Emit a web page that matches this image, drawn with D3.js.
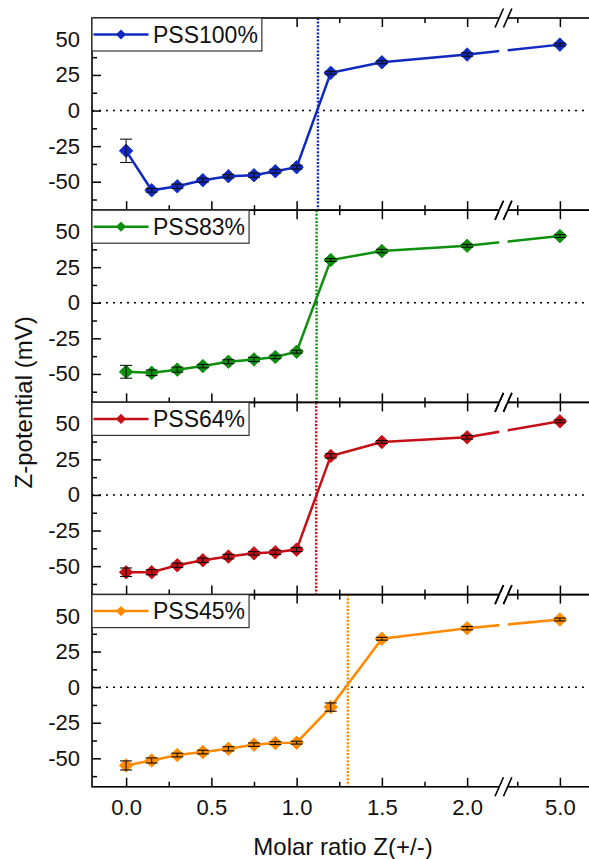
<!DOCTYPE html>
<html>
<head>
<meta charset="utf-8">
<script src="https://cdn.jsdelivr.net/npm/d3@7"></script>
<style>
  body { margin: 0; background: #fff; }
  svg { font-family: "Liberation Sans", Arial, sans-serif; }
</style>
</head>
<body>
<div class="chart"></div>
<script>
// ---- data ----
var ratios = [0, 0.15, 0.3, 0.45, 0.6, 0.75, 0.875, 1.0, 1.2, 1.5, 2.0, 5.0];

var pss100    = [-28.3, -56.0, -53.2, -48.9, -46.1, -45.4, -42.6, -39.8, 26.5, 33.9, 39.3, 46.3];
var pss100Err = [8.2, 1.3, 1.5, 1.4, 1.2, 1.5, 1.3, 1.3, 1.0, 1.0, 1.2, 1.0];

var pss83     = [-48.5, -49.2, -47.0, -44.5, -41.4, -39.8, -38.1, -34.4, 30.0, 36.3, 40.0, 46.8];
var pss83Err  = [4.5, 2.0, 1.8, 1.2, 1.4, 1.5, 1.2, 1.0, 1.0, 1.2, 1.0, 1.0];

var pss64     = [-54.3, -54.3, -49.4, -45.9, -43.3, -41.0, -40.3, -38.4, 27.4, 37.2, 40.5, 51.7];
var pss64Err  = [3.0, 1.8, 1.5, 1.6, 1.6, 1.2, 1.5, 1.4, 1.5, 1.0, 1.3, 1.0];

var pss45     = [-55.0, -51.5, -47.7, -45.6, -43.3, -40.4, -39.3, -39.0, -14.0, 34.0, 41.4, 47.5];
var pss45Err  = [3.2, 1.8, 1.3, 1.3, 1.5, 1.2, 1.0, 1.0, 2.9, 1.0, 1.2, 1.0];

var seriesNames = ["PSS100%", "PSS83%", "PSS64%", "PSS45%"];
var crossings   = [1.125, 1.117, 1.115, 1.30];

var xMajorTicks = [0, 0.5, 1.0, 1.5, 2.0, 5.0];
var xMinorTicks = [0.25, 0.75, 1.25, 1.75, 4.75, 5.25];
var yMajorTicks = [-50, -25, 0, 25, 50];
var yMinorTicks = [-62.5, -37.5, -12.5, 12.5, 37.5, 62.5];

var panels = [
    { name: seriesNames[0], values: pss100, errors: pss100Err, cross: crossings[0], color: "#1029c0" },
    { name: seriesNames[1], values: pss83,  errors: pss83Err,  cross: crossings[1], color: "#0e8f0e" },
    { name: seriesNames[2], values: pss64,  errors: pss64Err,  cross: crossings[2], color: "#c40f16" },
    { name: seriesNames[3], values: pss45,  errors: pss45Err,  cross: crossings[3], color: "#ff8a00" }
];

// ---- layout ----
var svgW = 589, svgH = 859;
var marginLeft = 92, marginTop = 18;
var plotW = 502;          // right frame sits just past the window edge
var panelH = 192.2;
var breakLo = 2.213, breakHi = 4.669;

var svg = d3.select(".chart").append("svg")
    .attr("width", svgW)
    .attr("height", svgH);

// broken x axis: two linear pieces joined at the same pixel
var pxPerUnit = plotW / ((breakLo + 0.2) + (5.2 - breakHi));
var breakX = (breakLo + 0.2) * pxPerUnit;
var x = d3.scaleLinear()
    .domain([-0.2, breakLo, breakHi, 5.2])
    .range([0, breakX, breakX, plotW]);

var y = d3.scaleLinear()
    .domain([-70, 65])
    .range([panelH, 0]);

var diamond = d3.symbol().type(d3.symbolSquare).size(92);
var legendDiamond = d3.symbol().type(d3.symbolSquare).size(52);

var defs = svg.append("defs");
defs.append("clipPath").attr("id", "clip-left")
    .append("rect").attr("x", -10).attr("y", -20).attr("width", breakX - 4.2 + 10).attr("height", panelH + 40);
defs.append("clipPath").attr("id", "clip-right")
    .append("rect").attr("x", breakX + 4.2).attr("y", -20).attr("width", plotW).attr("height", panelH + 40);

panels.forEach(function(p, i) {
    var g = svg.append("g")
        .attr("transform", "translate(" + marginLeft + "," + (marginTop + i * panelH) + ")");

    var pts = ratios.map(function(r, j) {
        return { x: r, y: p.values[j], e: p.errors[j] };
    });

    // zero reference line
    g.append("line")
        .attr("x1", 0).attr("x2", plotW)
        .attr("y1", y(0)).attr("y2", y(0))
        .attr("stroke", "#000")
        .attr("stroke-width", 1.5)
        .attr("stroke-dasharray", "2,5");

    // charge neutrality marker
    g.append("line")
        .attr("x1", x(p.cross)).attr("x2", x(p.cross))
        .attr("y1", 0).attr("y2", panelH)
        .attr("stroke", p.color)
        .attr("stroke-width", 2.4)
        .attr("stroke-dasharray", "2,1.6");

    var line = d3.line()
        .x(function(d) { return x(d.x); })
        .y(function(d) { return y(d.y); });

    ["clip-left", "clip-right"].forEach(function(c) {
        g.append("path")
            .datum(pts)
            .attr("clip-path", "url(#" + c + ")")
            .attr("fill", "none")
            .attr("stroke", p.color)
            .attr("stroke-width", 2.5)
            .attr("d", line);
    });

    g.selectAll(".marker")
        .data(pts)
        .enter()
        .append("path")
        .attr("class", "marker")
        .attr("d", diamond)
        .attr("transform", function(d) {
            return "translate(" + x(d.x) + "," + y(d.y) + ") rotate(45)";
        })
        .attr("fill", p.color)
        .attr("stroke", p.color)
        .attr("stroke-width", 0.8);

    // error bars
    var eb = g.selectAll(".err")
        .data(pts)
        .enter()
        .append("g")
        .attr("class", "err")
        .attr("stroke", "#111")
        .attr("stroke-width", 1.1);
    eb.append("line")
        .attr("x1", function(d) { return x(d.x); })
        .attr("x2", function(d) { return x(d.x); })
        .attr("y1", function(d) { return y(d.y - d.e); })
        .attr("y2", function(d) { return y(d.y + d.e); });
    [-1, 1].forEach(function(s) {
        eb.append("line")
            .attr("x1", function(d) { return x(d.x) - 6; })
            .attr("x2", function(d) { return x(d.x) + 6; })
            .attr("y1", function(d) { return y(d.y + s * d.e); })
            .attr("y2", function(d) { return y(d.y + s * d.e); });
    });

    // axes, ticks pointing inward
    var axes = [
        { ax: d3.axisLeft(y).tickValues(yMajorTicks).tickSize(-9).tickPadding(12)
                .tickFormat(function(d) { return String(d); }), t: null },
        { ax: d3.axisLeft(y).tickValues(yMinorTicks).tickSize(-5).tickFormat(""), t: null },
        { ax: d3.axisTop(x).tickValues(xMajorTicks).tickSize(-9).tickFormat(""), t: null },
        { ax: d3.axisTop(x).tickValues(xMinorTicks).tickSize(-5).tickFormat(""), t: null },
        { ax: d3.axisBottom(x).tickValues(xMajorTicks).tickSize(-9).tickPadding(13)
                .tickFormat(i === panels.length - 1 ? d3.format(".1f") : ""), t: panelH },
        { ax: d3.axisBottom(x).tickValues(xMinorTicks).tickSize(-5).tickFormat(""), t: panelH }
    ];
    axes.forEach(function(a) {
        var ag = g.append("g")
            .attr("class", "axis")
            .attr("transform", a.t === null ? null : "translate(0," + a.t + ")")
            .call(a.ax);
        ag.select(".domain").remove();
        ag.selectAll(".tick line").attr("stroke", "#000").attr("stroke-width", 1.5);
        ag.selectAll(".tick text")
            .attr("fill", "#111")
            .style("font-size", "22px");
    });

    // frame
    g.append("rect")
        .attr("x", 0).attr("y", 0)
        .attr("width", plotW).attr("height", panelH)
        .attr("fill", "none")
        .attr("stroke", "#000")
        .attr("stroke-width", 1.6);

    // axis break marks
    [0, panelH].forEach(function(yy) {
        g.append("rect")
            .attr("x", breakX - 4.5).attr("y", yy - 2)
            .attr("width", 9).attr("height", 4)
            .attr("fill", "#fff");
        [-4.2, 4.2].forEach(function(dx) {
            g.append("line")
                .attr("x1", breakX + dx - 4.2).attr("y1", yy + 9.5)
                .attr("x2", breakX + dx + 4.2).attr("y2", yy - 9.5)
                .attr("stroke", "#000")
                .attr("stroke-width", 1.6);
        });
    });

    // legend
    var lg = g.append("g").attr("class", "legend");
    var box = lg.append("rect")
        .attr("x", 0).attr("y", 0)
        .attr("height", 33)
        .attr("fill", "#fff")
        .attr("stroke", "#333")
        .attr("stroke-width", 1.2);
    lg.append("line")
        .attr("x1", 1.5).attr("x2", 56.5)
        .attr("y1", 16.5).attr("y2", 16.5)
        .attr("stroke", p.color)
        .attr("stroke-width", 2.5);
    lg.append("path")
        .attr("d", legendDiamond)
        .attr("transform", "translate(29,16.5) rotate(45)")
        .attr("fill", p.color);
    var txt = lg.append("text")
        .attr("x", 61)
        .attr("y", 24.5)
        .attr("fill", "#111")
        .style("font-size", "23px")
        .text(p.name);
    box.attr("width", 61 + txt.node().getComputedTextLength() + 4);
});

// axis titles
svg.append("text")
    .attr("transform", "translate(32," + (marginTop + 2 * panelH) + ") rotate(-90)")
    .attr("text-anchor", "middle")
    .attr("fill", "#111")
    .style("font-size", "24px")
    .text("Z-potential (mV)");

svg.append("text")
    .attr("x", 343)
    .attr("y", 855)
    .attr("text-anchor", "middle")
    .attr("fill", "#111")
    .style("font-size", "24px")
    .text("Molar ratio Z(+/-)");
</script>
</body>
</html>
